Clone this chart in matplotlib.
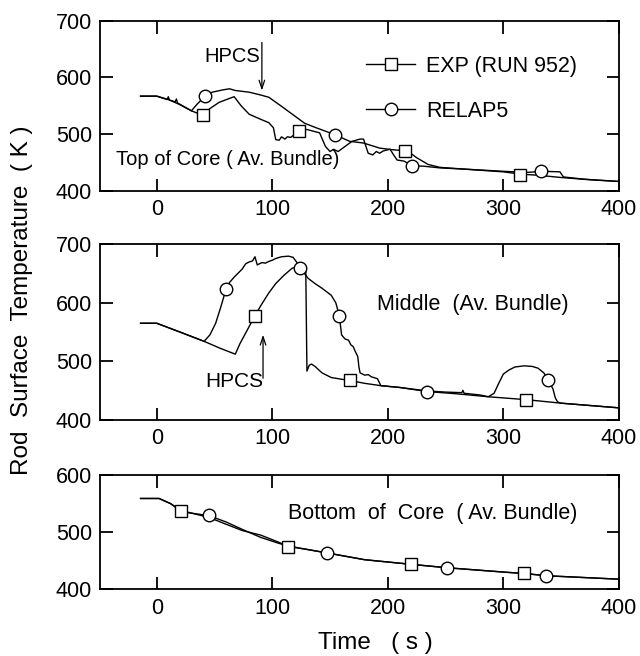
import matplotlib
matplotlib.use('Agg')
import matplotlib.pyplot as plt
from matplotlib.lines import Line2D

plt.rcParams['font.family'] = ['Liberation Sans', 'DejaVu Sans']

# ---- top of core ----
top_exp_t = [-14, 0, 9, 10, 11, 16, 17, 18, 30, 40, 46, 54, 63, 67, 73, 80, 90, 97, 101, 103,
             106, 108, 111, 113, 116, 123, 130, 141, 146, 150, 153, 157, 163, 169, 176, 179,
             183, 187, 190, 193, 196, 202, 205, 208, 214, 221, 231, 245, 265, 300, 315, 330,
             350, 375, 400]
top_exp_T = [567, 567, 561, 566, 560, 557, 562, 555, 541, 533, 545, 556, 563, 566, 550, 535, 526,
             520, 511, 490, 489, 495, 491, 495, 494, 505, 508, 502, 478, 469, 473, 469, 478, 487,
             491, 491, 466, 463, 469, 466, 470, 473, 463, 454, 452, 444, 443, 440, 438, 433, 429,
             427, 423, 419, 416]
top_rel_t = [-14, 0, 10, 20, 30, 35, 42, 48, 57, 63, 68, 80, 90, 97, 108, 118, 128, 138, 154,
             167, 179, 193, 205, 217, 225, 235, 245, 265, 300, 320, 335, 349, 352, 370, 400]
top_rel_T = [567, 567, 561, 552, 541, 553, 567, 574, 578, 580, 577, 574, 569, 565, 549, 534, 519,
             511, 499, 487, 484, 475, 472, 470, 458, 446, 441, 438, 434, 432, 434, 433, 424, 420, 416]
top_exp_mk_t = [40, 123, 215, 314]
top_exp_mk_T = [533, 505, 470, 428]
top_rel_mk_t = [42, 154, 221, 333]
top_rel_mk_T = [567, 499, 444, 435]

# ---- middle ----
mid_exp_t = [-14, 0, 20, 41, 55, 68, 72, 78, 85, 90, 97, 103, 110, 117, 122, 126, 129, 130, 132,
             134, 137, 143, 151, 160, 167, 180, 194, 210, 234, 260, 287, 320, 350, 400]
mid_exp_T = [565, 565, 550, 534, 522, 512, 530, 552, 578, 595, 617, 633, 647, 659, 663, 660, 655,
             483, 493, 495, 491, 480, 472, 469, 467, 462, 458, 455, 448, 444, 439, 434, 428, 420]
mid_rel_t = [-14, 0, 20, 41, 46, 51, 55, 58, 60, 63, 67, 74, 77, 80, 83, 85, 87, 91, 94, 97, 100,
             103, 108, 114, 118, 121, 124, 128, 131, 137, 143, 151, 155, 158, 160, 163, 166, 168,
             170, 172, 174, 175, 176, 180, 183, 186, 191, 194, 210, 234, 250, 264, 265, 266, 280,
             287, 292, 296, 300, 305, 310, 318, 325, 330, 335, 339, 343, 345, 347, 350, 400]
mid_rel_T = [565, 565, 550, 534, 545, 565, 590, 610, 624, 635, 644, 658, 667, 670, 672, 679, 665,
             669, 668, 671, 673, 676, 679, 680, 678, 670, 659, 650, 642, 633, 625, 613, 600, 578,
             545, 538, 536, 528, 525, 516, 508, 490, 480, 476, 477, 473, 470, 458, 455, 449, 447,
             446, 450, 445, 442, 439, 445, 462, 478, 485, 490, 492, 491, 488, 480, 468, 452, 437,
             430, 428, 420]
mid_exp_mk_t = [85, 167, 320]
mid_exp_mk_T = [578, 467, 434]
mid_rel_mk_t = [60, 124, 158, 234, 339]
mid_rel_mk_T = [624, 659, 578, 448, 468]

# ---- bottom of core ----
bot_exp_t = [-14, 2, 12, 21, 45, 60, 74, 90, 105, 114, 130, 147, 180, 220, 251, 303, 318, 337, 400]
bot_exp_T = [559, 559, 550, 538, 526, 514, 503, 495, 483, 475, 470, 464, 452, 444, 438, 430, 428, 424, 418]
bot_rel_t = [-14, 2, 12, 21, 45, 60, 74, 90, 105, 114, 130, 147, 180, 220, 251, 303, 318, 337, 400]
bot_rel_T = [559, 559, 550, 536, 529, 518, 505, 491, 481, 476, 470, 464, 452, 444, 438, 430, 428, 424, 418]
bot_exp_mk_t = [21, 114, 220, 318]
bot_exp_mk_T = [537, 474, 444, 428]
bot_rel_mk_t = [45, 147, 251, 337]
bot_rel_mk_T = [530, 464, 438, 424]

xticks = [0, 100, 200, 300, 400]
mk = dict(linestyle='none', mfc='white', mec='black', mew=1.0, ms=9, zorder=3)

fig = plt.figure(figsize=(6.4, 6.56), dpi=100)
left, width = 0.157, 0.810
ax_top = fig.add_axes([left, 0.7096, width, 0.2584])
ax_mid = fig.add_axes([left, 0.3605, width, 0.2668])
ax_bot = fig.add_axes([left, 0.1014, width, 0.1745])

panels = [
    (ax_top, top_exp_t, top_exp_T, top_rel_t, top_rel_T, top_exp_mk_t, top_exp_mk_T,
     top_rel_mk_t, top_rel_mk_T, (400, 700), [400, 500, 600, 700]),
    (ax_mid, mid_exp_t, mid_exp_T, mid_rel_t, mid_rel_T, mid_exp_mk_t, mid_exp_mk_T,
     mid_rel_mk_t, mid_rel_mk_T, (400, 700), [400, 500, 600, 700]),
    (ax_bot, bot_exp_t, bot_exp_T, bot_rel_t, bot_rel_T, bot_exp_mk_t, bot_exp_mk_T,
     bot_rel_mk_t, bot_rel_mk_T, (400, 600), [400, 500, 600]),
]

for ax, et, eT, rt, rT, emt, emT, rmt, rmT, ylim, yt in panels:
    ax.plot(et, eT, color='black', lw=1.0)
    ax.plot(rt, rT, color='black', lw=1.0)
    ax.plot(emt, emT, marker='s', **mk)
    ax.plot(rmt, rmT, marker='o', **mk)
    ax.set_xlim(-48.7, 400)
    ax.set_ylim(*ylim)
    ax.set_xticks(xticks)
    ax.set_yticks(yt)
    ax.tick_params(direction='in', length=9, width=1.3, top=True, right=True,
                   labelsize=15.5, pad=6)
    for s in ax.spines.values():
        s.set_linewidth(1.3)

# annotations
ax_top.text(-35, 446, 'Top of Core ( Av. Bundle)', fontsize=14.5, va='baseline')
ax_top.text(41, 628, 'HPCS', fontsize=14.5, va='baseline')
ax_top.annotate('', xy=(91, 572), xytext=(91, 667),
                arrowprops=dict(arrowstyle='->,head_length=0.6,head_width=0.2', lw=0.9))
ax_mid.text(42, 456, 'HPCS', fontsize=15, va='baseline')
ax_mid.annotate('', xy=(92, 550), xytext=(92, 466),
                arrowprops=dict(arrowstyle='->,head_length=0.6,head_width=0.2', lw=0.9))
ax_mid.text(191, 588, 'Middle  (Av. Bundle)', fontsize=15.5, va='baseline')
ax_bot.text(114, 524, 'Bottom  of  Core  ( Av. Bundle)', fontsize=15.5, va='baseline')

handles = [
    Line2D([], [], color='black', lw=1.0, marker='s', mfc='white', mec='black', ms=9),
    Line2D([], [], color='black', lw=1.0, marker='o', mfc='white', mec='black', ms=9),
]
ax_top.legend(handles, ['EXP (RUN 952)', 'RELAP5'], loc='center left',
              bbox_to_anchor=(0.512, 0.6), frameon=False, fontsize=15.5,
              handlelength=2.3, handletextpad=0.5, labelspacing=1.1,
              borderpad=0, borderaxespad=0, numpoints=1)

fig.text(0.034, 0.543, 'Rod  Surface  Temperature  ( K )', rotation=90,
         ha='center', va='center', fontsize=17.5)
fig.text(0.586, 0.02, 'Time   ( s )', ha='center', va='center', fontsize=17.5)

fig.savefig('out.png', dpi=100)
